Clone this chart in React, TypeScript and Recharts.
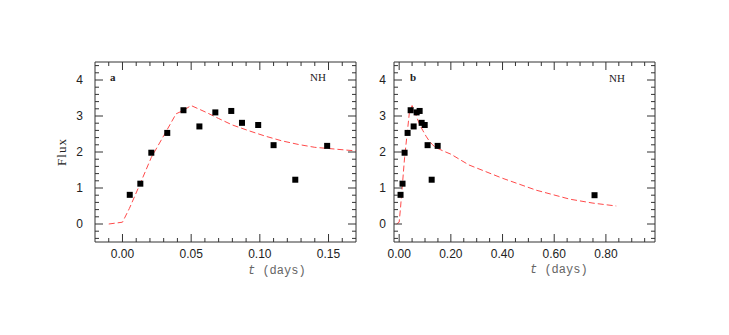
import { ComposedChart, Line, ReferenceArea, Scatter, XAxis, YAxis } from "recharts";

// observed flux points (days, flux)
const obsT = [0.0053, 0.013, 0.021, 0.0326, 0.0444, 0.056, 0.0676, 0.0792, 0.087, 0.0988, 0.11, 0.1258, 0.149, 0.756];
const obsFlux = [0.81, 1.12, 1.98, 2.53, 3.16, 2.71, 3.1, 3.14, 2.81, 2.75, 2.19, 1.23, 2.17, 0.8];

// model curve (red dashed)
const modelT = [-0.01, 0.0, 0.005, 0.013, 0.021, 0.03, 0.039, 0.044, 0.05, 0.061, 0.07, 0.08, 0.092, 0.104, 0.116, 0.128, 0.14, 0.17, 0.2, 0.27, 0.4, 0.53, 0.66, 0.75, 0.84];
const modelFlux = [0, 0.05, 0.43, 1.13, 1.85, 2.45, 3.06, 3.15, 3.29, 3.1, 2.93, 2.75, 2.59, 2.44, 2.31, 2.21, 2.13, 2.03, 1.94, 1.64, 1.27, 0.94, 0.69, 0.58, 0.5];

const xMajorA = [0, 0.05, 0.1, 0.15];
const xMajorB = [0, 0.2, 0.4, 0.6, 0.8];
const yMajor = [0, 1, 2, 3, 4];

const steps = (from: number, step: number, n: number) =>
  Array.from({ length: n }, (_, i) => Number((from + i * step).toFixed(3)));

const xTicksA = steps(-0.01, 0.01, 18);
const xTicksB = steps(0, 0.05, 20);
const yTicks = steps(-0.4, 0.2, 25);

const obs = obsT.map((t, i) => ({ t, flux: obsFlux[i] }));
const model = modelT.map((t, i) => ({ t, flux: modelFlux[i] }));

const TOP = 62;
const BOTTOM = 242;
const FRAME = "#333";
const TICK_FONT = "'Liberation Sans', Arial, sans-serif";

type PanelProps = {
  left: number;
  width: number;
  plotLeft: number;
  plotRight: number;
  xDomain: [number, number];
  xTicks: number[];
  xMajor: number[];
  yLabelGap: number;
};

function Panel({ left, width, plotLeft, plotRight, xDomain, xTicks, xMajor, yLabelGap }: PanelProps) {
  const isMajorX = (v: number) => xMajor.some((m) => Math.abs(m - v) < 1e-6);
  const isMajorY = (v: number) => yMajor.some((m) => Math.abs(m - v) < 1e-6);

  const XTick = (p: any) => {
    const v = p.payload.value;
    const major = isMajorX(v);
    const len = major ? 8 : 4;
    return (
      <g>
        <line x1={p.x} x2={p.x} y1={BOTTOM} y2={BOTTOM - len} stroke={FRAME} />
        <line x1={p.x} x2={p.x} y1={TOP} y2={TOP + len} stroke={FRAME} />
        {major && (
          <text x={p.x} y={BOTTOM + 16} textAnchor="middle" fontSize={12} fontFamily={TICK_FONT} fill="#222">
            {v.toFixed(2)}
          </text>
        )}
      </g>
    );
  };

  const YTick = (p: any) => {
    const v = p.payload.value;
    const major = isMajorY(v);
    const len = major ? 8 : 4;
    return (
      <g>
        <line x1={plotLeft} x2={plotLeft + len} y1={p.y} y2={p.y} stroke={FRAME} />
        <line x1={plotRight} x2={plotRight - len} y1={p.y} y2={p.y} stroke={FRAME} />
        {major && (
          <text x={plotLeft - yLabelGap} y={p.y + 4} textAnchor="end" fontSize={12} fontFamily={TICK_FONT} fill="#222">
            {v}
          </text>
        )}
      </g>
    );
  };

  const yAxisWidth = 20;
  return (
    <div style={{ position: "absolute", left, top: 0 }}>
      <ComposedChart
        width={width}
        height={335}
        margin={{ top: TOP, bottom: 335 - BOTTOM - 30, left: plotLeft - yAxisWidth, right: width - plotRight }}
      >
        <XAxis
          dataKey="t"
          type="number"
          domain={xDomain}
          ticks={xTicks}
          interval={0}
          allowDataOverflow
          height={30}
          tickLine={false}
          axisLine={false}
          tick={XTick}
        />
        <YAxis
          type="number"
          domain={[-0.5, 4.5]}
          ticks={yTicks}
          interval={0}
          allowDataOverflow
          width={yAxisWidth}
          tickLine={false}
          axisLine={false}
          tick={YTick}
        />
        <ReferenceArea x1={xDomain[0]} x2={xDomain[1]} y1={-0.5} y2={4.5} fill="none" fillOpacity={0} stroke={FRAME} strokeWidth={1} />
        <Line
          data={model}
          dataKey="flux"
          type="linear"
          stroke="#ff4a4a"
          strokeWidth={1}
          strokeDasharray="6 3"
          dot={false}
          isAnimationActive={false}
        />
        <Scatter
          data={obs}
          dataKey="flux"
          isAnimationActive={false}
          shape={(p: any) => <rect x={p.cx - 3} y={p.cy - 3} width={6} height={6} fill="#000" />}
        />
      </ComposedChart>
    </div>
  );
}

const serif = "'Liberation Serif', 'Times New Roman', serif";
const mono = "'Liberation Mono', 'Courier New', monospace";

function Txt({ x, y, children, style }: { x: number; y: number; children: any; style?: any }) {
  return (
    <div style={{ position: "absolute", left: x, top: y, whiteSpace: "nowrap", lineHeight: 1, ...style }}>{children}</div>
  );
}

export default function App() {
  return (
    <div style={{ position: "absolute", left: 0, top: 0, width: 729, height: 335, background: "#fff", overflow: "hidden" }}>
      <Panel left={0} width={370} plotLeft={95} plotRight={356} xDomain={[-0.02, 0.17]} xTicks={xTicksA} xMajor={xMajorA} yLabelGap={12} />
      <Panel left={370} width={359} plotLeft={24} plotRight={285} xDomain={[-0.02, 0.99]} xTicks={xTicksB} xMajor={xMajorB} yLabelGap={8} />

      <div
        style={{
          position: "absolute",
          left: 62,
          top: 152,
          transform: "translate(-50%, -50%) rotate(-90deg)",
          fontFamily: serif,
          fontSize: 13,
          letterSpacing: 1,
          color: "#222",
          whiteSpace: "nowrap",
        }}
      >
        Flux
      </div>

      <Txt x={110} y={72} style={{ fontFamily: serif, fontSize: 11, fontWeight: "bold", color: "#222" }}>a</Txt>
      <Txt x={310} y={72} style={{ fontFamily: serif, fontSize: 11, color: "#222" }}>NH</Txt>
      <Txt x={410} y={72} style={{ fontFamily: serif, fontSize: 11, fontWeight: "bold", color: "#222" }}>b</Txt>
      <Txt x={609} y={73} style={{ fontFamily: serif, fontSize: 11, color: "#222" }}>NH</Txt>

      <Txt x={248} y={265} style={{ fontFamily: mono, fontSize: 12, color: "#666" }}>
        <span style={{ fontStyle: "italic" }}>t</span> (days)
      </Txt>
      <Txt x={530} y={264} style={{ fontFamily: mono, fontSize: 12, color: "#666" }}>
        <span style={{ fontStyle: "italic" }}>t</span> (days)
      </Txt>
    </div>
  );
}
